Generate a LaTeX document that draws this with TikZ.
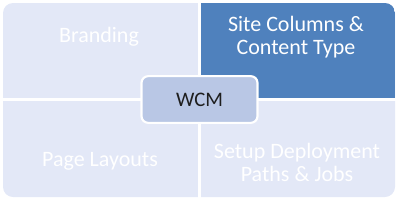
\documentclass[tikz,border=0pt]{standalone}
\usepackage{fontspec}
\setmainfont{Carlito}
\definecolor{tilelight}{RGB}{227,232,247}
\definecolor{tiledark}{RGB}{79,129,189}
\definecolor{hubfill}{RGB}{185,199,229}
\definecolor{hubtext}{RGB}{30,30,30}
\usetikzlibrary{positioning}

\begin{document}
\begin{tikzpicture}[x=0.75pt, y=-0.75pt,
    label/.style={align=center, text=white, font=\fontsize{16.5}{17.3}\selectfont,
      inner sep=0pt},
    hub/.style={rectangle, rounded corners=5pt, minimum width=87pt, minimum height=35pt,
      draw=white, line width=1.6pt, fill=hubfill, text=hubtext,
      font=\fontsize{15.5}{17}\selectfont}
  ]
    \useasboundingbox (0,0) rectangle (400,201);

    % Tiles: one rounded outline, split in four
    \fill[tilelight, rounded corners=7.5pt] (3,3) rectangle (395,197);
    \begin{scope}
      \clip[rounded corners=7.5pt] (3,3) rectangle (395,197);
      \fill[tiledark] (199.5,3) rectangle (395,99.5);
    \end{scope}
    \draw[white, line width=2pt] (199.5,0) -- (199.5,201);
    \draw[white, line width=2pt] (0,99.5) -- (400,99.5);

    % Tile texts
    \node[label] (brand)   at (99,37)    {Branding};
    \node[label] (sitecol) at (296,37.5) {Site Columns \&\\Content Type};
    \node[label] (layouts) at (100,161)  {Page Layouts};
    \node[label] (deploy)  at (297,162)  {Setup Deployment\\Paths \& Jobs};

    % Centre
    \node[hub] (wcm) at (199.5,99.5) {WCM};
  \end{tikzpicture}
\end{document}
